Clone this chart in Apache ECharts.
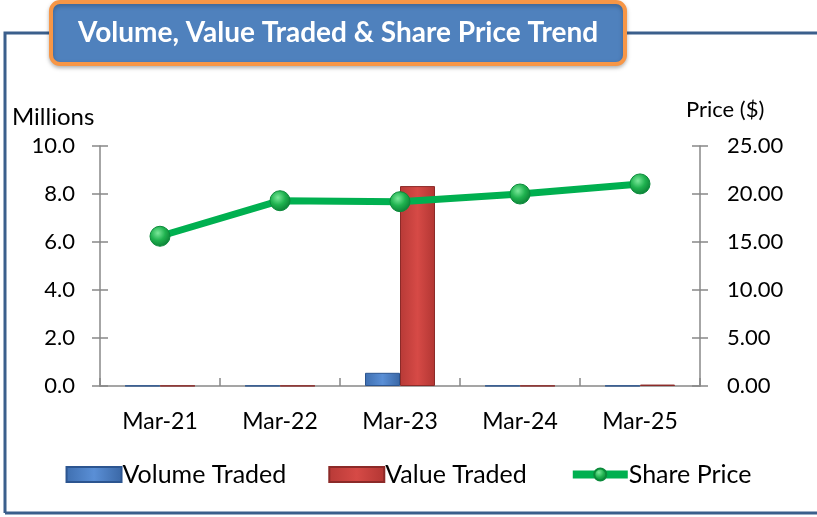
<!DOCTYPE html>
<html>
<head>
<meta charset="utf-8">
<script src="https://cdn.jsdelivr.net/npm/echarts@6/dist/echarts.min.js"></script>
<style>
  html, body { margin: 0; padding: 0; background: #fff; }
  #main { width: 817px; height: 517px; }
</style>
</head>
<body>
<div id="main"></div>
<script>
// chart data
const categories = ['Mar-21', 'Mar-22', 'Mar-23', 'Mar-24', 'Mar-25'];
const volumeTraded = [0.01, 0.01, 0.55, 0.01, 0.01];   // millions
const valueTraded = [0.01, 0.01, 8.33, 0.01, 0.06];    // millions
const sharePrice = [15.6, 19.3, 19.2, 20.0, 21.05];     // $
const leftTicks = [0, 10, 2];    // min, max, interval
const rightTicks = [0, 25, 5];

const font = 'Lato, "Open Sans", sans-serif';
const axisGrey = { color: '#888', width: 1.5 };

const chart = echarts.init(document.getElementById('main'));

const blueFill = new echarts.graphic.LinearGradient(0, 0, 1, 0, [
  { offset: 0, color: '#3f6fb0' },
  { offset: 0.5, color: '#5a8fd6' },
  { offset: 1, color: '#3a67a5' }
]);
const redFill = new echarts.graphic.LinearGradient(0, 0, 1, 0, [
  { offset: 0, color: '#b83a37' },
  { offset: 0.5, color: '#d64a46' },
  { offset: 1, color: '#b23633' }
]);
const ball = new echarts.graphic.RadialGradient(0.4, 0.35, 0.7, [
  { offset: 0, color: '#7be89a' },
  { offset: 0.5, color: '#1fb24f' },
  { offset: 1, color: '#0a7a33' }
]);

// plain axes that only add the inner half of each tick, so ticks cross the axis line
const innerY = (range, pos) => ({
  type: 'value', min: range[0], max: range[1], interval: range[2], position: pos,
  axisLine: { show: false },
  axisTick: { show: true, inside: true, length: 8, lineStyle: axisGrey },
  axisLabel: { show: false },
  splitLine: { show: false }
});

const option = {
  animation: false,
  graphic: [
    {
      type: 'polyline',
      shape: { points: [[5, 513], [5, 33], [817, 33]] },
      style: { stroke: '#3b5f8c', lineWidth: 3, fill: null },
      z: 0
    },
    {
      type: 'line',
      shape: { x1: 5, y1: 513, x2: 817, y2: 513 },
      style: { stroke: '#3b5f8c', lineWidth: 3 }
    },
    {
      type: 'rect',
      shape: { x: 51, y: 2, width: 574, height: 62, r: 9 },
      style: {
        fill: '#4f81bd', stroke: '#f79646', lineWidth: 4,
        shadowBlur: 4, shadowColor: 'rgba(0,0,0,0.25)', shadowOffsetY: 2
      },
      z: 10
    },
    {
      type: 'text',
      x: 338, y: 33,
      style: {
        text: 'Volume, Value Traded & Share Price Trend',
        fill: '#fff', font: 'bold 28px ' + font,
        align: 'center', verticalAlign: 'middle'
      },
      z: 11
    },
    {
      type: 'text', x: 12, y: 117,
      style: { text: 'Millions', fill: '#000', font: '24px ' + font, verticalAlign: 'middle' }
    },
    {
      type: 'text', x: 686, y: 110,
      style: { text: 'Price ($)', fill: '#000', font: '22px ' + font, verticalAlign: 'middle' }
    }
  ],
  grid: { left: 100, right: 117, top: 146, bottom: 131 },
  legend: {
    bottom: 25,
    left: 'center',
    itemWidth: 55,
    itemHeight: 15,
    itemGap: 42,
    textStyle: { fontFamily: font, fontSize: 25, color: '#000', padding: [0, 0, 0, -4] },
    data: [
      { name: 'Volume Traded', icon: 'rect' },
      { name: 'Value Traded', icon: 'rect' },
      { name: 'Share Price', lineStyle: { width: 8 } }
    ]
  },
  xAxis: [
    {
      type: 'category',
      data: categories,
      axisLine: { lineStyle: axisGrey },
      axisTick: { length: 9, lineStyle: axisGrey },
      axisLabel: { fontFamily: font, fontSize: 23, color: '#000', margin: 24 }
    },
    {
      type: 'category',
      data: categories,
      position: 'bottom',
      axisLine: { show: false },
      axisTick: { show: true, inside: true, length: 8, lineStyle: axisGrey },
      axisLabel: { show: false }
    }
  ],
  yAxis: [
    {
      type: 'value', min: leftTicks[0], max: leftTicks[1], interval: leftTicks[2],
      axisLine: { show: true, lineStyle: axisGrey },
      axisTick: { show: true, length: 8, lineStyle: axisGrey },
      splitLine: { show: false },
      axisLabel: { fontFamily: font, fontSize: 22, color: '#000', margin: 25, formatter: v => v.toFixed(1) }
    },
    {
      type: 'value', min: rightTicks[0], max: rightTicks[1], interval: rightTicks[2],
      position: 'right',
      axisLine: { show: true, lineStyle: axisGrey },
      axisTick: { show: true, length: 8, lineStyle: axisGrey },
      splitLine: { show: false },
      axisLabel: { fontFamily: font, fontSize: 22, color: '#000', margin: 27, formatter: v => v.toFixed(2) }
    },
    innerY(leftTicks, 'left'),
    innerY(rightTicks, 'right')
  ],
  series: [
    {
      name: 'Volume Traded',
      type: 'bar',
      data: volumeTraded,
      barWidth: 35,
      barGap: '0%',
      itemStyle: { color: blueFill, borderColor: '#2c5590', borderWidth: 1 }
    },
    {
      name: 'Value Traded',
      type: 'bar',
      data: valueTraded,
      barWidth: 35,
      itemStyle: { color: redFill, borderColor: '#8c2a28', borderWidth: 1 }
    },
    {
      name: 'Share Price',
      type: 'line',
      xAxisIndex: 1,
      yAxisIndex: 1,
      data: sharePrice,
      symbol: 'circle',
      symbolSize: 20,
      lineStyle: { color: '#00b050', width: 7 },
      itemStyle: { color: ball, borderColor: '#0a8a3a', borderWidth: 1 },
      z: 5
    }
  ]
};

chart.setOption(option);
</script>
</body>
</html>
